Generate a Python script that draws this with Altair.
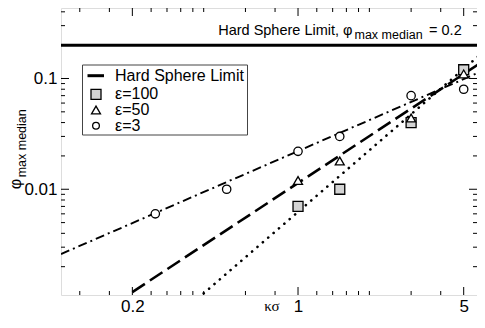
import altair as alt
import pandas as pd

# ---------------- data ----------------
eps100_x = [1, 1.5, 3, 5]
eps100_y = [0.007, 0.010, 0.040, 0.12]
eps50_x = [1, 1.5, 3, 5]
eps50_y = [0.012, 0.018, 0.044, 0.11]
eps3_x = [0.25, 0.5, 1, 1.5, 3, 5]
eps3_y = [0.006, 0.010, 0.022, 0.030, 0.070, 0.080]

# fitted straight lines (log-log), endpoints
fit100_x = [0.4, 6]
fit100_y = [0.00115, 0.171]
fit50_x = [0.2, 6]
fit50_y = [0.00118, 0.142]
fit3_x = [0.1, 6]
fit3_y = [0.0026, 0.117]

hard_sphere = 0.2

x_major = [0.2, 1, 5]
x_minor = [0.12, 0.16, 0.24, 0.28, 0.32, 0.36, 0.4, 0.6, 0.8,
           1.2, 1.4, 1.6, 1.8, 2, 3, 4]
y_major = [0.01, 0.1]
y_minor = [0.002, 0.003, 0.004, 0.005, 0.006, 0.007, 0.008, 0.009,
           0.02, 0.03, 0.04, 0.05, 0.06, 0.07, 0.08, 0.09, 0.3, 0.4]

legend_labels = ["Hard Sphere Limit", "ε=100", "ε=50", "ε=3"]

# ---------------- layout ----------------
W, H = 416, 287
FONT = "Liberation Sans"
xs = alt.Scale(type="log", domain=[0.1, 5.69], nice=False)
ys = alt.Scale(type="log", domain=[0.00111, 0.433], nice=False)

xaxis = alt.Axis(values=x_major, format="~g", ticks=False, domain=False, grid=False,
                 labelFontSize=17, labelFont=FONT, labelColor="black",
                 labelPadding=3, labelFlush=False, labelOverlap=False, title=None)
yaxis = alt.Axis(values=y_major, format="~g", ticks=False, domain=False, grid=False,
                 labelFontSize=17, labelFont=FONT, labelColor="black",
                 labelPadding=4, labelFlush=False, labelOverlap=False, title=None)


def X(f):
    return alt.X(f, type="quantitative", scale=xs, axis=xaxis)


def Y(f):
    return alt.Y(f, type="quantitative", scale=ys, axis=yaxis)


pts = pd.DataFrame({
    "x": eps100_x + eps50_x + eps3_x,
    "y": eps100_y + eps50_y + eps3_y,
    "s": ["e100"] * len(eps100_x) + ["e50"] * len(eps50_x) + ["e3"] * len(eps3_x),
})

layers = []


def fit_line(xv, yv, dash, width, cap="butt"):
    df = pd.DataFrame({"x": xv, "y": yv})
    return alt.Chart(df).mark_line(color="black", strokeWidth=width, strokeDash=dash,
                                   strokeCap=cap, clip=True).encode(x=X("x"), y=Y("y"))

layers.append(fit_line(fit100_x, fit100_y, [0.1, 7], 2.6, "round"))
layers.append(fit_line(fit50_x, fit50_y, [15, 6], 2.6))
layers.append(fit_line(fit3_x, fit3_y, [9, 4, 2, 4], 1.9))

# hard sphere limit
hs = pd.DataFrame({"y": [hard_sphere]})
layers.append(alt.Chart(hs).mark_rule(color="black", strokeWidth=3).encode(
    y=Y("y"), x=alt.value(0), x2=alt.value(W)))

# points
sq = pts[pts.s == "e100"]
tr = pts[pts.s == "e50"]
ci = pts[pts.s == "e3"]
layers.append(alt.Chart(sq).mark_point(shape="square", size=100, filled=True, fill="#d4d4d4",
                                       stroke="black", strokeWidth=1.3, opacity=1).encode(x=X("x"), y=Y("y")))
layers.append(alt.Chart(tr).mark_point(shape="triangle-up", size=80, filled=True, fill="white",
                                       stroke="black", strokeWidth=1.3, opacity=1).encode(x=X("x"), y=Y("y")))
layers.append(alt.Chart(ci).mark_point(shape="circle", size=70, filled=True, fill="white",
                                       stroke="black", strokeWidth=1.3, opacity=1).encode(x=X("x"), y=Y("y")))


# inward ticks on all four sides
def xticks(vals, ln):
    df = pd.DataFrame({"v": vals})
    b = alt.Chart(df).mark_rule(color="black", strokeWidth=1).encode(
        x=X("v"), y=alt.value(H), y2=alt.value(H - ln))
    t = alt.Chart(df).mark_rule(color="black", strokeWidth=1).encode(
        x=X("v"), y=alt.value(0), y2=alt.value(ln))
    return [b, t]


def yticks(vals, ln):
    df = pd.DataFrame({"v": vals})
    l = alt.Chart(df).mark_rule(color="black", strokeWidth=1).encode(
        y=Y("v"), x=alt.value(0), x2=alt.value(ln))
    r = alt.Chart(df).mark_rule(color="black", strokeWidth=1).encode(
        y=Y("v"), x=alt.value(W), x2=alt.value(W - ln))
    return [l, r]

layers += xticks(x_major, 8) + xticks(x_minor, 4) + yticks(y_major, 8) + yticks(y_minor, 4)

# legend
one = pd.DataFrame({"a": [0]})
layers.append(alt.Chart(one).mark_rect(fill="white", stroke="#444444", strokeWidth=1).encode(
    x=alt.value(21.5), x2=alt.value(186.5), y=alt.value(57), y2=alt.value(127)))
rows_y = [67.7, 86.3, 102, 117.7]
layers.append(alt.Chart(one).mark_rule(color="black", strokeWidth=3).encode(
    x=alt.value(26.5), x2=alt.value(43), y=alt.value(rows_y[0])))
layers.append(alt.Chart(one).mark_point(shape="square", size=100, filled=True, fill="#d4d4d4",
                                        stroke="black", strokeWidth=1.3, opacity=1).encode(
    x=alt.value(35), y=alt.value(rows_y[1])))
layers.append(alt.Chart(one).mark_point(shape="triangle-up", size=80, filled=True, fill="white",
                                        stroke="black", strokeWidth=1.3, opacity=1).encode(
    x=alt.value(35), y=alt.value(rows_y[2])))
layers.append(alt.Chart(one).mark_point(shape="circle", size=45, filled=True, fill="white",
                                        stroke="black", strokeWidth=1.3, opacity=1).encode(
    x=alt.value(35), y=alt.value(rows_y[3])))
for lab, yy in zip(legend_labels, rows_y):
    layers.append(alt.Chart(one).mark_text(text=lab, font=FONT, fontSize=16, align="left",
                                           baseline="middle", color="black").encode(
        x=alt.value(54), y=alt.value(yy)))


def txt(s, x, y, size, align="left", baseline="alphabetic", angle=0, font=FONT):
    return alt.Chart(one).mark_text(text=s, font=font, fontSize=size, align=align,
                                    baseline=baseline, angle=angle, color="black").encode(
        x=alt.value(x), y=alt.value(y))

# annotation "Hard Sphere Limit, φ_max median = 0.2"
layers.append(txt("Hard Sphere Limit, φ", 291.5, 27, 14.5, align="right"))
layers.append(txt("max median", 293.5, 31.3, 12.5))
layers.append(txt("= 0.2", 400.7, 27, 14.5, align="right"))

# axis titles
layers.append(txt("κσ", 211, 302.5, 15, align="center", font="Liberation Serif"))
layers.append(txt("φ", -45, 176, 16, align="center", baseline="middle", angle=270))
layers.append(txt("max median", -39, 135.3, 12.5, align="center", baseline="middle", angle=270))

chart = alt.layer(*layers).properties(
    width=W, height=H,
    autosize=alt.AutoSizeParams(type="none"),
    padding={"left": 53, "top": 0, "right": 0, "bottom": 19},
).configure_view(stroke="black", strokeWidth=1).configure(background="white")

chart.save("out.html", embed_options={"renderer": "svg", "actions": False})
